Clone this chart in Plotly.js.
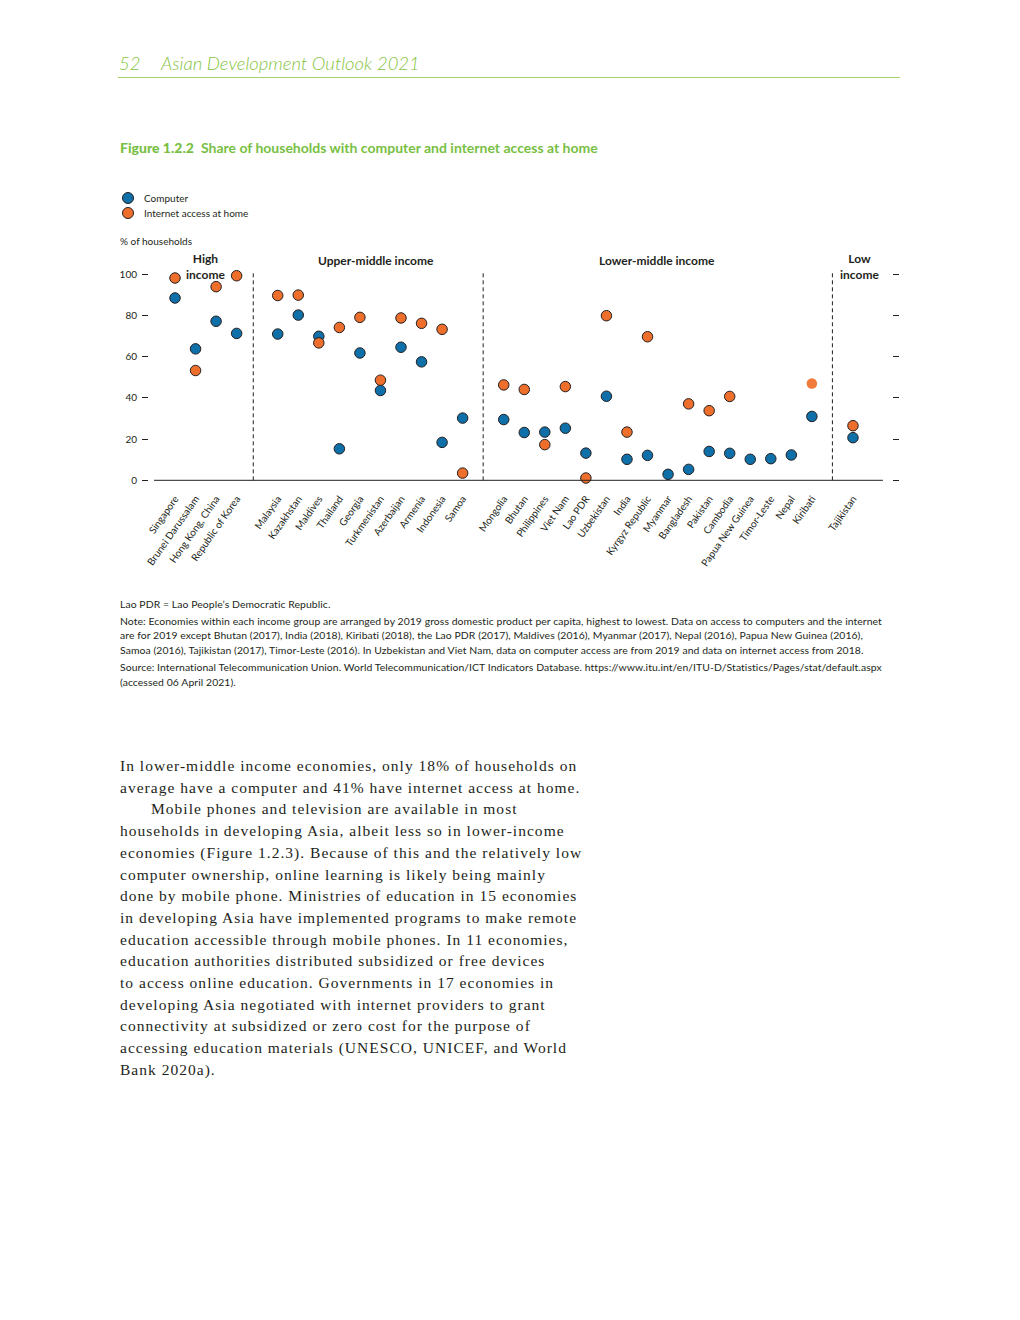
<!DOCTYPE html>
<html>
<head>
<meta charset="utf-8">
<script src="https://cdn.plot.ly/plotly-3.0.1.min.js"></script>
<style>
  html, body { margin: 0; padding: 0; background: #ffffff; }
  #page { position: relative; width: 1020px; height: 1320px; overflow: hidden; }
  #chart { position: absolute; left: 0; top: 0; width: 1020px; height: 1320px; }
  .txt { position: absolute; white-space: nowrap; color: #231f20; }
  #hdr { left: 119px; top: 52px; font-family: Lato, sans-serif; font-style: italic; font-weight: 300; font-size: 18.5px; color: #86c440; }
  #hdr .num { display: inline-block; width: 42px; }
  #rule { position: absolute; left: 118px; top: 77px; width: 782px; height: 1px; background: #a3d26a; }
  #figtitle { left: 120px; top: 139px; font-family: Lato, sans-serif; font-size: 14px; font-weight: 700; color: #78bf43; }
  #figtitle .lab { font-weight: 900; margin-right: 7px; }
  #yunit { left: 120px; top: 235px; font-family: Lato, sans-serif; font-size: 10px; }
  #notes { left: 120px; top: 597px; font-family: Lato, sans-serif; font-size: 10.4px; line-height: 14.7px; letter-spacing: 0.08px; }
  #notes .gap { height: 2px; }
  #body { left: 120px; top: 755px; font-family: "Liberation Serif", serif; font-size: 15.5px; line-height: 21.7px; letter-spacing: 1.02px; color: #231f20; }
  #body .ind { display: inline-block; width: 31px; }
</style>
</head>
<body>
<div id="page">
  <div id="chart"></div>
  <div class="txt" id="hdr"><span class="num">52</span>Asian Development Outlook 2021</div>
  <div id="rule"></div>
  <div class="txt" id="figtitle"><span class="lab">Figure 1.2.2</span>Share of households with computer and internet access at home</div>
  <div class="txt" id="yunit">% of households</div>
  <div class="txt" id="notes">
    <div>Lao PDR = Lao People’s Democratic Republic.</div>
    <div class="gap"></div>
    <div>Note: Economies within each income group are arranged by 2019 gross domestic product per capita, highest to lowest. Data on access to computers and the internet</div>
    <div>are for 2019 except Bhutan (2017), India (2018), Kiribati (2018), the Lao PDR (2017), Maldives (2016), Myanmar (2017), Nepal (2016), Papua New Guinea (2016),</div>
    <div>Samoa (2016), Tajikistan (2017), Timor-Leste (2016). In Uzbekistan and Viet Nam, data on computer access are from 2019 and data on internet access from 2018.</div>
    <div class="gap"></div>
    <div>Source: International Telecommunication Union. World Telecommunication/ICT Indicators Database. https://www.itu.int/en/ITU-D/Statistics/Pages/stat/default.aspx</div>
    <div>(accessed 06 April 2021).</div>
  </div>
  <div class="txt" id="body">
    <div>In lower-middle income economies, only 18% of households on</div>
    <div>average have a computer and 41% have internet access at home.</div>
    <div><span class="ind"></span>Mobile phones and television are available in most</div>
    <div>households in developing Asia, albeit less so in lower-income</div>
    <div>economies (Figure 1.2.3). Because of this and the relatively low</div>
    <div>computer ownership, online learning is likely being mainly</div>
    <div>done by mobile phone. Ministries of education in 15 economies</div>
    <div>in developing Asia have implemented programs to make remote</div>
    <div>education accessible through mobile phones. In 11 economies,</div>
    <div>education authorities distributed subsidized or free devices</div>
    <div>to access online education. Governments in 17 economies in</div>
    <div>developing Asia negotiated with internet providers to grant</div>
    <div>connectivity at subsidized or zero cost for the purpose of</div>
    <div>accessing education materials (UNESCO, UNICEF, and World</div>
    <div>Bank 2020a).</div>
  </div>
</div>
<script>
// ---------------- DATA ----------------
var groupNames = ["High<br>income", "Upper-middle income", "Lower-middle income", "Low<br>income"];

var highCountries = ["Singapore", "Brunei Darussalam", "Hong Kong, China", "Republic of Korea"];
var highComputer  = [88.5, 63.8, 77.2, 71.3];
var highInternet  = [98.2, 53.3, 94.0, 99.3];

var upperCountries = ["Malaysia", "Kazakhstan", "Maldives", "Thailand", "Georgia", "Turkmenistan", "Azerbaijan", "Armenia", "Indonesia", "Samoa"];
var upperComputer  = [71.0, 80.2, 69.9, 15.3, 61.8, 43.6, 64.6, 57.5, 18.4, 30.2];
var upperInternet  = [89.7, 89.9, 66.7, 74.2, 79.1, 48.6, 78.8, 76.2, 73.3, 3.5];

var lowerCountries = ["Mongolia", "Bhutan", "Philippines", "Viet Nam", "Lao PDR", "Uzbekistan", "India", "Kyrgyz Republic", "Myanmar", "Bangladesh", "Pakistan", "Cambodia", "Papua New Guinea", "Timor-Leste", "Nepal", "Kiribati"];
var lowerComputer  = [29.5, 23.2, 23.4, 25.3, 13.2, 40.8, 10.2, 12.1, 2.9, 5.3, 14.0, 13.1, 10.2, 10.5, 12.3, 31.0];
var lowerInternet  = [46.3, 44.1, 17.3, 45.5, 1.1, 79.9, 23.4, 69.7, null, 37.1, 33.8, 40.7, null, null, null, 47.0];

var lowCountries = ["Tajikistan"];
var lowComputer  = [20.7];
var lowInternet  = [26.5];

var seriesNames = ["Computer", "Internet access at home"];
var yTicks = [0, 20, 40, 60, 80, 100];

// ---------------- BUILD ----------------
var groups = [
  {name: groupNames[0], c: highCountries, comp: highComputer, inet: highInternet},
  {name: groupNames[1], c: upperCountries, comp: upperComputer, inet: upperInternet},
  {name: groupNames[2], c: lowerCountries, comp: lowerComputer, inet: lowerInternet},
  {name: groupNames[3], c: lowCountries, comp: lowComputer, inet: lowInternet}
];

var xs = [], names = [], comp = [], inet = [], gapPos = [], centers = [];
var idx = 0;
groups.forEach(function (g, gi) {
  var start = idx;
  g.c.forEach(function (name, i) {
    xs.push(idx); names.push(name); comp.push(g.comp[i]); inet.push(g.inet[i]);
    idx++;
  });
  centers.push((start + idx - 1) / 2);
  if (gi < groups.length - 1) { gapPos.push(idx); idx++; }
});

var BLUE = "#0f6fa8", ORANGE = "#ee6e2c", INK = "#231f20";
var inetLineW = names.map(function (n) { return n === "Kiribati" ? 0 : 1; });
var inetColor = names.map(function (n) { return n === "Kiribati" ? "#f27a3a" : ORANGE; });

var traces = [
  {
    type: "scatter", mode: "markers", name: seriesNames[0], showlegend: false,
    x: xs, y: comp, cliponaxis: false,
    marker: {color: BLUE, size: 10.5, line: {color: INK, width: 1}}
  },
  {
    type: "scatter", mode: "markers", name: seriesNames[1], showlegend: false,
    x: xs, y: inet, cliponaxis: false,
    marker: {color: inetColor, size: 10.5, line: {color: INK, width: inetLineW}}
  }
];

// plot-area geometry (pixels) for paper conversions
var PL = 149, PW = 743, PB = 490, PH = 230;
function px2paperX(p) { return (p - PL) / PW; }
function px2paperY(p) { return (PB - p) / PH; }

var shapes = [];
// baseline
shapes.push({type: "line", xref: "x", yref: "y", x0: -1.02, x1: 34.46, y0: 0, y1: 0,
  line: {color: INK, width: 1}});
// group dividers
gapPos.forEach(function (g, i) {
  var gx = (i === 0) ? g - 0.19 : g;
  shapes.push({type: "line", xref: "x", yref: "y", x0: gx, x1: gx, y0: 0, y1: 101,
    line: {color: INK, width: 1, dash: "4px,3px"}});
});

// legend (drawn manually for compact spacing)
var legendColors = [BLUE, ORANGE];
var annotations = [];
seriesNames.forEach(function (s, i) {
  var cy = 198 + i * 15;
  shapes.push({type: "circle", xref: "paper", yref: "paper",
    xsizemode: "pixel", ysizemode: "pixel",
    xanchor: px2paperX(128), yanchor: px2paperY(cy),
    x0: -5.5, x1: 5.5, y0: -5.5, y1: 5.5,
    fillcolor: legendColors[i], line: {color: INK, width: 1}});
  annotations.push({xref: "paper", yref: "paper", x: px2paperX(142), y: px2paperY(cy),
    xanchor: "left", yanchor: "middle", showarrow: false, text: s,
    font: {family: "Lato, sans-serif", size: 10, color: INK}});
});

groups.forEach(function (g, i) {
  var twoLine = g.name.indexOf("<br>") >= 0;
  var shift = [0, 6, -1, 7][i];
  annotations.push({
    xref: "x", yref: "paper", x: centers[i], xshift: shift,
    y: px2paperY(twoLine ? 266.5 : 260), yanchor: "middle",
    text: g.name, showarrow: false, align: "center",
    font: {family: "Lato, sans-serif", size: 12, color: INK, weight: 700}
  });
});

var layout = {
  width: 1020, height: 1320,
  margin: {l: PL, r: 1020 - PL - PW, t: PB - PH, b: 1320 - PB, pad: 0},
  paper_bgcolor: "#ffffff", plot_bgcolor: "rgba(0,0,0,0)",
  font: {family: "Lato, sans-serif", color: INK},
  showlegend: false,
  xaxis: {
    range: [-1.266, 34.90], showgrid: false, zeroline: false, showline: false,
    tickmode: "array", tickvals: xs, ticktext: names, tickangle: -55,
    ticks: "", tickfont: {family: "Lato, sans-serif", size: 10, color: INK}
  },
  yaxis: {
    range: [-4.71, 106.94], showgrid: false, zeroline: false, showline: false,
    tickmode: "array", tickvals: yTicks,
    ticks: "outside", ticklen: 6, tickwidth: 1, tickcolor: INK, mirror: "ticks",
    ticklabelstandoff: 3,
    tickfont: {family: "Lato, sans-serif", size: 10, color: INK}
  },
  shapes: shapes,
  annotations: annotations
};

Plotly.newPlot("chart", traces, layout, {staticPlot: true, displayModeBar: false});
</script>
</body>
</html>
